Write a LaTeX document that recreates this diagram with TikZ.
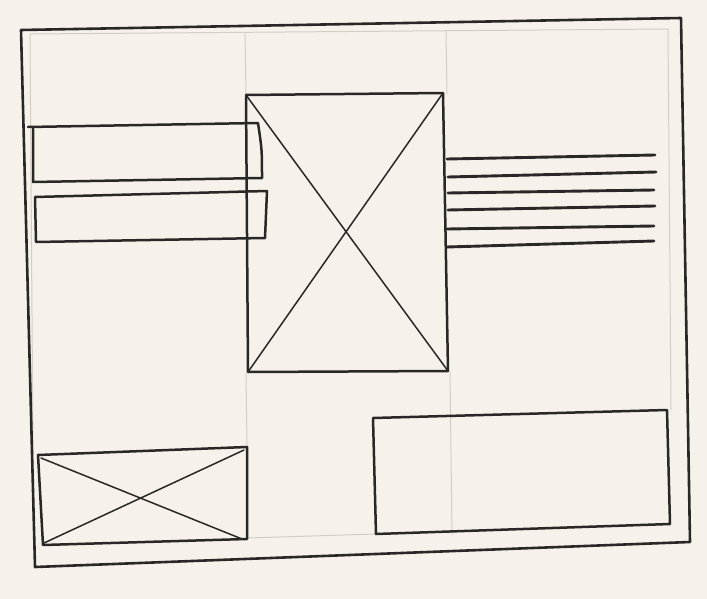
\documentclass[tikz,border=0pt]{standalone}
\definecolor{paper}{HTML}{F6F2EB}
\definecolor{ink}{HTML}{2A2826}
\definecolor{pencil}{HTML}{D3CEC4}
\begin{document}
\begin{tikzpicture}[x=1pt,y=-1pt,
  frame/.style={draw=ink,line width=2.6pt,line join=round,line cap=round},
  thick ink/.style={draw=ink,line width=2.5pt,line join=round,line cap=round},
  cross/.style={draw=ink,line width=1.5pt,line cap=round},
  guide/.style={draw=pencil,line width=1pt},
  textline/.style={draw=ink,line width=2.9pt,line cap=round}]
\fill[paper] (0,0) rectangle (707,599);
\useasboundingbox (0,0) rectangle (707,599);
% faint pencil guides
\draw[guide] (30,34) -- (668,29) -- (671,410);
\draw[guide] (30,34) -- (33,455);
\draw[guide] (245,34) -- (246,94);
\draw[guide] (246,372) -- (247,447);
\draw[guide] (446,31) -- (447,94);
\draw[guide] (450,372) -- (452,535);
\draw[guide] (247,538) -- (376,534);
% outer frame
\draw[frame] (21,30) -- (681,18) -- (690,542) -- (35,567) -- cycle;
% big image placeholder
\draw[thick ink] (246,95) -- (443,93) -- (448,371) -- (248,372) -- cycle;
\draw[cross] (246,95) -- (448,371);
\draw[cross] (443,93) -- (248,372);
% left bars
\draw[thick ink] (28,127) -- (258,123) .. controls (262,150) .. (262,178) -- (33,182) -- (33,129);
\draw[thick ink] (35,197) -- (267,191) -- (265,238) -- (36,242) -- cycle;
% text lines
\draw[textline] (447,159) -- (655,155);
\draw[textline] (448,177) -- (656,172);
\draw[textline] (448,193) -- (654,190);
\draw[textline] (448,210) -- (655,206);
\draw[textline] (447,229) -- (654,226);
\draw[textline] (447,247) -- (654,241);
% small image placeholder
\draw[thick ink] (38,455) -- (247,447) -- (247,539) -- (43,545) -- cycle;
\draw[cross] (41,458) -- (242,539);
\draw[cross] (44,543) -- (244,450);
% bottom right box
\draw[thick ink] (373,418) -- (667,410) -- (670,524) -- (376,534) -- cycle;
\end{tikzpicture}
\end{document}
